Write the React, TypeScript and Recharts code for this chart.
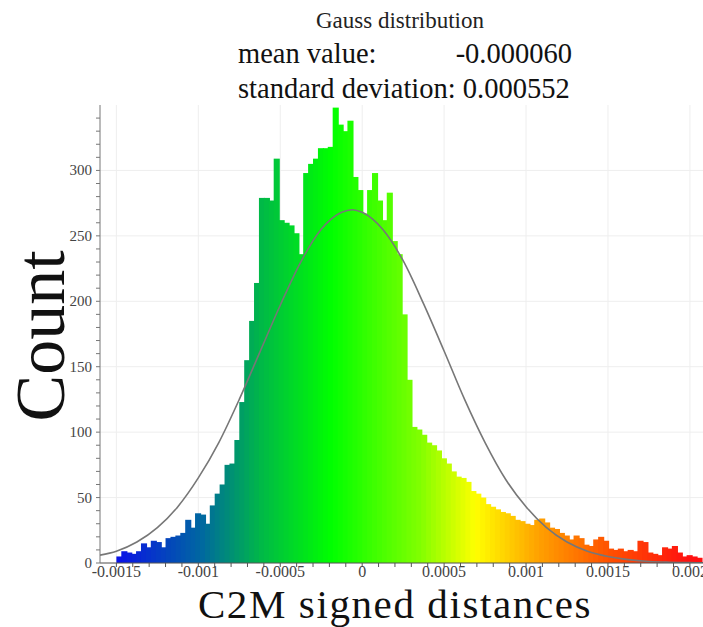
import React from "react";
import { Bar, CartesianGrid, ComposedChart, Line, XAxis, YAxis } from "recharts";

// histogram bins (C2M signed distances)
const BIN_START = -0.0015;
const BIN_WIDTH = 0.00003;
const COUNTS = [
  5, 9, 8, 7, 9, 15, 12, 17, 16, 12,
  19, 20, 21, 23, 33, 27, 38, 37, 30, 44,
  53, 60, 75, 76, 94, 123, 155, 185, 214, 279,
  279, 277, 309, 262, 260, 258, 252, 236, 298, 305,
  309, 317, 317, 318, 348, 335, 330, 338, 295, 285,
  267, 285, 298, 277, 262, 283, 246, 236, 190, 140,
  104, 102, 98, 92, 90, 86, 80, 76, 70, 66,
  65, 62, 55, 53, 50, 45, 43, 41, 39, 38,
  36, 33, 32, 30, 29, 33, 34, 31, 27, 26,
  23, 21, 18, 21, 19, 14, 13, 18, 20, 17,
  11, 10, 11, 9, 10, 9, 17, 16, 8, 7,
  6, 12, 11, 13, 8, 5, 6, 5, 4,
];

// fitted gauss curve
const GAUSS_X = [
  -0.0016, -0.0015, -0.001375, -0.00125, -0.001125, -0.001, -0.000875, -0.00075,
  -0.000625, -0.0005, -0.000375, -0.00025, -0.000125, -0.00006, 0, 0.000125, 0.00025,
  0.000375, 0.0005, 0.000625, 0.00075, 0.000875, 0.001, 0.001125, 0.00125,
  0.001375, 0.0015, 0.001625, 0.00175, 0.001875, 0.002, 0.00208,
];
const GAUSS_Y = [
  6, 9, 16, 27, 43, 65, 92, 125,
  161, 197, 230, 255, 268, 270, 268, 255, 231,
  198, 162, 125, 92, 64, 43, 27, 16,
  9, 5, 2.6, 1.2, 0.6, 0.3, 0.2,
];

const X_TICKS = [-0.0015, -0.001, -0.0005, 0, 0.0005, 0.001, 0.0015, 0.002];
const X_TICK_LABELS = ["-0.0015", "-0.001", "-0.0005", "0", "0.0005", "0.001", "0.0015", "0.002"];
const Y_TICKS = [0, 50, 100, 150, 200, 250, 300];

const MEAN_VALUE = "-0.000060";
const STD_DEV = "0.000552";

const X_DOMAIN: [number, number] = [-0.0016, 0.00208];
const Y_DOMAIN: [number, number] = [0, 350];
const X_MINOR = Array.from({ length: 36 }, (_, i) => Number((-0.0015 + i * 0.0001).toFixed(4)));
const Y_MINOR = Array.from({ length: 35 }, (_, i) => i * 10);

const SERIF = "'Liberation Serif', 'DejaVu Serif', serif";

// blue > green > yellow > red scale
const COLOR_STOPS: Array<[number, string]> = [
  [-0.0015, "#0a10e8"],
  [-0.00098, "#0068a0"],
  [-0.00062, "#00b848"],
  [-0.00019, "#00ff00"],
  [0.00035, "#80ff00"],
  [0.00069, "#ffff00"],
  [0.00108, "#ffa000"],
  [0.00151, "#ff5000"],
  [0.002, "#ff1010"],
];

function hexToRgb(h: string) {
  return [1, 3, 5].map((i) => parseInt(h.slice(i, i + 2), 16));
}

function colorAt(v: number) {
  if (v <= COLOR_STOPS[0][0]) return COLOR_STOPS[0][1];
  for (let i = 1; i < COLOR_STOPS.length; i++) {
    const [v1, c1] = COLOR_STOPS[i];
    if (v <= v1) {
      const [v0, c0] = COLOR_STOPS[i - 1];
      const t = (v - v0) / (v1 - v0);
      const a = hexToRgb(c0);
      const b = hexToRgb(c1);
      const rgb = a.map((x, k) => Math.round(x + (b[k] - x) * t));
      return `rgb(${rgb.join(",")})`;
    }
  }
  return COLOR_STOPS[COLOR_STOPS.length - 1][1];
}

const bins = COUNTS.map((count, i) => ({ x: BIN_START + BIN_WIDTH * (i + 0.5), count }));
const gauss = GAUSS_X.map((x, i) => ({ x, gauss: GAUSS_Y[i] }));

const near = (a: number, b: number) => Math.abs(a - b) < 1e-9;

function HistBar(props: any) {
  const { x, y, width, height, payload } = props;
  if (!height || height <= 0) return null;
  return <rect x={x} y={y} width={width + 1.1} height={height} fill={colorAt(payload.x)} />;
}

function XTick(props: any) {
  const { x, y, payload } = props;
  const i = X_TICKS.findIndex((t) => near(t, payload.value));
  if (i < 0) return <g />;
  return (
    <text x={x} y={y} dy={6} textAnchor="middle" fill="#444" fontSize={16} fontFamily={SERIF}>
      {X_TICK_LABELS[i]}
    </text>
  );
}

function YTick(props: any) {
  const { x, y, payload } = props;
  if (!Y_TICKS.includes(payload.value)) return <g />;
  return (
    <text x={x} y={y} dy={5} textAnchor="end" fill="#444" fontSize={15} fontFamily={SERIF}>
      {String(payload.value)}
    </text>
  );
}

export default function App() {
  return (
    <div style={{ position: "absolute", left: 0, top: 0, width: 703, height: 627, background: "#fff" }}>
      <ComposedChart
        width={703}
        height={627}
        data={bins}
        margin={{ top: 105, right: 0, bottom: 0, left: 40 }}
        barCategoryGap={0}
        barGap={0}
      >
        <CartesianGrid
          stroke="#eeeeee"
          verticalValues={X_TICKS}
          horizontalValues={Y_TICKS}
        />
        <XAxis
          type="number"
          dataKey="x"
          domain={X_DOMAIN}
          allowDataOverflow
          ticks={X_MINOR}
          interval={0}
          height={64}
          tickSize={4}
          tickMargin={4}
          tick={<XTick />}
          stroke="#555"
        />
        <XAxis xAxisId="curve" type="number" dataKey="x" domain={X_DOMAIN} allowDataOverflow hide />
        <YAxis
          type="number"
          domain={Y_DOMAIN}
          allowDataOverflow
          ticks={Y_MINOR}
          interval={0}
          width={60}
          tickSize={4}
          tickMargin={4}
          tick={<YTick />}
          stroke="#777"
        />
        <Bar dataKey="count" shape={<HistBar />} isAnimationActive={false} />
        <Line
          data={gauss}
          xAxisId="curve"
          dataKey="gauss"
          type="monotone"
          stroke="#777777"
          strokeWidth={1.6}
          dot={false}
          isAnimationActive={false}
        />
      </ComposedChart>
      <svg
        width={703}
        height={627}
        style={{ position: "absolute", left: 0, top: 0, pointerEvents: "none" }}
        fontFamily={SERIF}
      >
        <text x={400} y={28} textAnchor="middle" fontSize={23} fill="#222">
          Gauss distribution
        </text>
        <text x={238} y={63} fontSize={28.5} fill="#111">
          mean value:
        </text>
        <text x={572} y={63} textAnchor="end" fontSize={28.5} fill="#111">
          {MEAN_VALUE}
        </text>
        <text x={238} y={98} fontSize={28.5} fill="#111">
          {`standard deviation: ${STD_DEV}`}
        </text>
        <text
          x={0}
          y={0}
          transform="translate(64 336) rotate(-90)"
          textAnchor="middle"
          fontSize={70}
          fill="#111"
        >
          Count
        </text>
        <text x={395} y={618} textAnchor="middle" fontSize={41} letterSpacing={1.6} fill="#111">
          C2M signed distances
        </text>
      </svg>
    </div>
  );
}
